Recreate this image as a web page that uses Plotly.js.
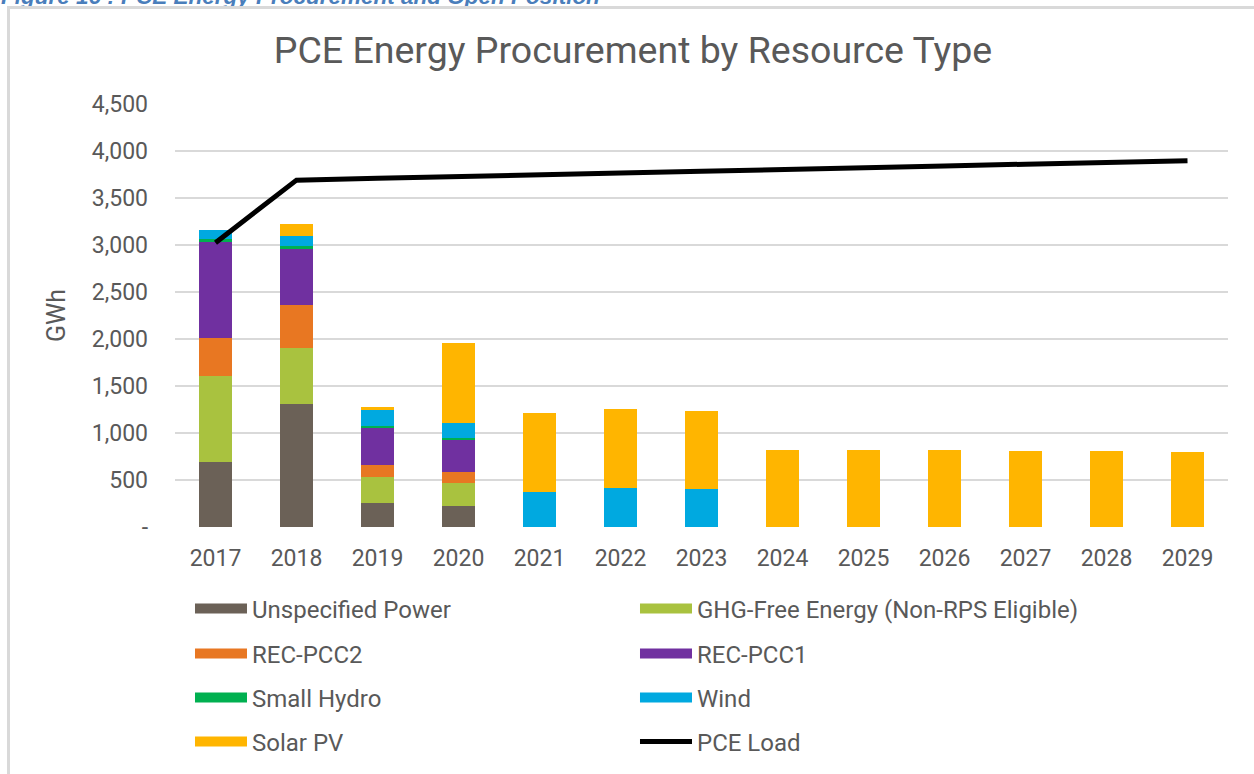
<!DOCTYPE html>
<html>
<head>
<meta charset="utf-8">
<script src="https://cdn.plot.ly/plotly-3.0.1.min.js"></script>
<style>
  html, body { margin: 0; padding: 0; background: #ffffff; overflow: hidden; }
  #wrap { position: relative; width: 1254px; height: 774px; }
  #chart { position: absolute; left: 0; top: 0; width: 1254px; height: 774px; }
  #frame { position: absolute; left: 7px; top: 6px; width: 1300px; height: 800px;
           border-left: 3px solid #d9d9d9; border-top: 3px solid #d9d9d9; pointer-events: none; }
</style>
</head>
<body>
<div id="wrap">
  <div id="chart"></div>
  <div id="frame"></div>
</div>
<script>
// ---- data (GWh) ----
const years = ['2017','2018','2019','2020','2021','2022','2023','2024','2025','2026','2027','2028','2029'];
const unspecifiedPower = [695, 1312, 259, 227, 0, 0, 0, 0, 0, 0, 0, 0, 0];
const ghgFreeEnergy    = [911, 596, 273, 238, 0, 0, 0, 0, 0, 0, 0, 0, 0];
const recPcc2          = [408, 450, 131, 117, 0, 0, 0, 0, 0, 0, 0, 0, 0];
const recPcc1          = [1021, 596, 397, 351, 0, 0, 0, 0, 0, 0, 0, 0, 0];
const smallHydro       = [29, 36, 18, 17, 0, 0, 0, 0, 0, 0, 0, 0, 0];
const wind             = [96, 109, 174, 160, 376, 418, 404, 0, 0, 0, 0, 0, 0];
const solarPv          = [0, 121, 21, 844, 840, 837, 833, 823, 819, 816, 809, 805, 801];
const pceLoad          = [3025, 3690, 3710, 3725, 3745, 3765, 3785, 3800, 3820, 3840, 3860, 3880, 3895];

const yTickVals = [0, 500, 1000, 1500, 2000, 2500, 3000, 3500, 4000, 4500];
const yTickText = ['-', '500', '1,000', '1,500', '2,000', '2,500', '3,000', '3,500', '4,000', '4,500'];

const seriesNames = ['Unspecified Power', 'GHG-Free Energy (Non-RPS Eligible)', 'REC-PCC2', 'REC-PCC1', 'Small Hydro', 'Wind', 'Solar PV'];
const seriesValues = [unspecifiedPower, ghgFreeEnergy, recPcc2, recPcc1, smallHydro, wind, solarPv];
const seriesColors = ['#6b6157', '#a9c23f', '#e87722', '#7030a0', '#00b050', '#00a9e0', '#ffb500'];
// one legend per legend row (two entries each)
const legendRow = ['legend', 'legend', 'legend2', 'legend2', 'legend3', 'legend3', 'legend4'];

const textColor = '#595959';
const fontFamily = 'Roboto, "Open Sans", sans-serif';

const traces = [];
seriesNames.forEach(function (name, i) {
  traces.push({
    type: 'bar', name: name, x: years, y: seriesValues[i],
    marker: { color: seriesColors[i], line: { width: 0 } },
    legendgroup: 'g' + i, showlegend: false,
    hovertemplate: name + ': %{y:,.0f} GWh<extra></extra>'
  });
});
// legend swatches (legend-only entries linked to the bar series)
seriesNames.forEach(function (name, i) {
  traces.push({
    type: 'scatter', mode: 'lines', name: name, x: [null], y: [null],
    line: { color: seriesColors[i], width: 13 },
    legendgroup: 'g' + i, showlegend: true, legend: legendRow[i],
    hoverinfo: 'skip'
  });
});
traces.push({
  type: 'scatter', mode: 'lines', name: 'PCE Load', x: years, y: pceLoad,
  line: { color: '#000000', width: 5 },
  legendgroup: 'load', legend: 'legend4',
  hovertemplate: 'PCE Load: %{y:,.0f} GWh<extra></extra>'
});

const legendCommon = {
  orientation: 'h', xanchor: 'left', yanchor: 'top', xref: 'paper', yref: 'container',
  font: { family: fontFamily, size: 24, color: textColor },
  bgcolor: 'rgba(0,0,0,0)', borderwidth: 0,
  itemwidth: 52, entrywidth: 378, entrywidthmode: 'pixels', traceorder: 'normal',
  x: (190 - 175) / 1053.5
};
const rowCenters = [610, 655, 699, 743];
function legendAt(rowCenter) {
  return Object.assign({}, legendCommon, { y: 1 - (rowCenter - 23.6) / 774 });
}

const layout = {
  width: 1254, height: 774,
  margin: { l: 175, r: 25.5, t: 104, b: 247, pad: 0 },
  paper_bgcolor: '#ffffff', plot_bgcolor: '#ffffff',
  font: { family: fontFamily, color: textColor },
  barmode: 'stack', bargap: 0.6,
  title: {
    text: 'PCE Energy Procurement by Resource Type',
    font: { family: fontFamily, size: 37.5, color: textColor },
    x: 633 / 1254, xanchor: 'center', xref: 'container',
    y: 1 - 50 / 774, yanchor: 'middle', yref: 'container'
  },
  xaxis: {
    type: 'category', showgrid: false, zeroline: false, showline: false,
    ticks: '', ticklabelstandoff: 15,
    tickfont: { family: fontFamily, size: 23, color: textColor }
  },
  yaxis: {
    range: [0, 4500], tickvals: yTickVals, ticktext: yTickText,
    showgrid: true, gridcolor: '#d9d9d9', gridwidth: 2,
    zeroline: false, showline: false, ticks: '', ticklabelstandoff: 26,
    tickfont: { family: fontFamily, size: 23, color: textColor },
    title: { text: 'GWh', font: { family: fontFamily, size: 25, color: textColor }, standoff: 19 }
  },
  legend: legendAt(rowCenters[0]),
  legend2: legendAt(rowCenters[1]),
  legend3: legendAt(rowCenters[2]),
  legend4: legendAt(rowCenters[3]),
  annotations: [{
    text: '<b><i>Figure 16 : PCE Energy Procurement and Open Position</i></b>',
    xref: 'paper', yref: 'paper', x: -0.167, y: (527 - 11) / 423,
    xanchor: 'left', yanchor: 'bottom', showarrow: false,
    font: { family: '"Liberation Sans", Arial, sans-serif', size: 22.5, color: '#4a7ebb' }
  }],
  showlegend: true,
  hovermode: 'closest'
};

Plotly.newPlot('chart', traces, layout, { displayModeBar: false, responsive: false });
</script>
</body>
</html>
